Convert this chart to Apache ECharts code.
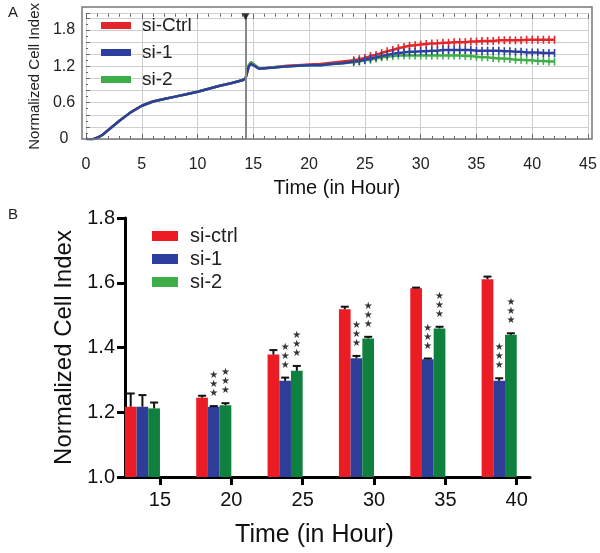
<!DOCTYPE html>
<html>
<head>
<meta charset="utf-8">
<script src="https://cdn.jsdelivr.net/npm/echarts@6/dist/echarts.min.js"></script>
<style>
html,body{margin:0;padding:0;background:#fff;}
#c{width:600px;height:553px;}
</style>
</head>
<body>
<div id="c"></div>
<script>
// ---------- Panel A data (time course) ----------
const timeA = [0,0.5,1,1.5,2,3,4,5,6,7,8,9,10,11,12,13,14,14.3,14.6,14.8,15.5,16,17,18,19,20,21,22,23,24,24.5,25,25.5,26,26.5,27,27.5,28,28.5,29,29.5,30,30.5,31,31.5,32,32.5,33,33.5,34,34.5,35,35.5,36,36.5,37,37.5,38,38.5,39,39.5,40,40.5,41,41.5,42];
const ctrlA = [0,-0.01,0.02,0.07,0.15,0.30,0.44,0.55,0.62,0.66,0.70,0.74,0.78,0.83,0.88,0.92,0.97,1.00,1.22,1.27,1.17,1.17,1.19,1.21,1.22,1.23,1.24,1.26,1.28,1.30,1.32,1.34,1.37,1.39,1.42,1.45,1.47,1.50,1.52,1.54,1.55,1.56,1.57,1.58,1.58,1.59,1.59,1.60,1.60,1.60,1.61,1.61,1.62,1.62,1.62,1.63,1.63,1.63,1.63,1.63,1.64,1.64,1.64,1.64,1.64,1.64];
const si1A = [0,-0.01,0.02,0.07,0.15,0.30,0.44,0.55,0.62,0.66,0.70,0.74,0.78,0.83,0.88,0.92,0.97,1.00,1.20,1.24,1.16,1.17,1.18,1.20,1.21,1.22,1.22,1.24,1.25,1.28,1.29,1.31,1.33,1.35,1.37,1.39,1.41,1.42,1.43,1.44,1.44,1.45,1.45,1.46,1.46,1.47,1.47,1.47,1.47,1.47,1.47,1.46,1.46,1.46,1.46,1.46,1.45,1.45,1.44,1.44,1.43,1.43,1.43,1.42,1.42,1.42];
const si2A = [0,-0.01,0.02,0.07,0.15,0.30,0.44,0.55,0.62,0.66,0.70,0.74,0.78,0.83,0.88,0.92,0.97,1.00,1.22,1.27,1.17,1.17,1.19,1.20,1.21,1.22,1.22,1.24,1.25,1.27,1.28,1.30,1.31,1.33,1.35,1.36,1.37,1.38,1.38,1.38,1.38,1.38,1.38,1.38,1.38,1.38,1.38,1.38,1.38,1.37,1.37,1.36,1.35,1.35,1.34,1.33,1.33,1.32,1.31,1.31,1.30,1.30,1.29,1.29,1.28,1.28];
const treatTime = 14.3;
const errMarkFrom = 24;
const namesA = ['si-Ctrl','si-1','si-2'];

// ---------- Panel B data (bar chart) ----------
const timesB = [15,20,25,30,35,40];
const ctrlB = [1.217,1.245,1.378,1.518,1.583,1.611];
const ctrlErrB = [0.041,0.006,0.014,0.008,0.002,0.008];
const si1B = [1.217,1.217,1.297,1.367,1.364,1.297];
const si1ErrB = [0.036,0.002,0.010,0.007,0.002,0.008];
const si2B = [1.212,1.222,1.328,1.428,1.459,1.439];
const si2ErrB = [0.018,0.006,0.015,0.005,0.005,0.005];
const si1Sig = ['','***','***','***','***','***'];
const si2Sig = ['','***','***','***','***','***'];
const namesB = ['si-ctrl','si-1','si-2'];
const yTicksB = [1.0,1.2,1.4,1.6,1.8];

const FONT = 'Liberation Sans, Arial, sans-serif';
const colA = {red:'#e3262b', blue:'#2c3f9e', green:'#3fae48'};
const colB = {red:'#ec1c24', blue:'#2e3d97', green:'#10803f'};

const chart = echarts.init(document.getElementById('c'), null, {renderer:'canvas'});

function pairs(t, v){ return t.map((x,i)=>[x, v[i]]); }

function lineSeries(name, vals, color){
  return {
    type:'line', name, xAxisIndex:0, yAxisIndex:0,
    data: pairs(timeA, vals),
    lineStyle:{color, width:2.5},
    itemStyle:{color},
    symbol: (val) => val[0] >= errMarkFrom ? 'rect' : 'none',
    symbolSize:[1.6, 8],
    showSymbol:true,
    emphasis:{disabled:true},
    z:3
  };
}

const BAR_W = 11.7; // px
function barSeries(name, vals, errs, sigs, color, k){
  return {
    type:'custom', name, xAxisIndex:2, yAxisIndex:1,
    data: timesB.map((t,i)=>[t, vals[i], errs[i], sigs[i]]),
    itemStyle:{color},
    encode:{x:0, y:1},
    renderItem: function(params, api){
      const t = api.value(0), v = api.value(1), e = api.value(2);
      const sig = sigs[params.dataIndex];
      const base = api.coord([t, yTicksB[0]]);
      const topP = api.coord([t, v]);
      const errP = api.coord([t, v + e]);
      const x0 = base[0] - (3 - k) * BAR_W;
      const cx = x0 + BAR_W/2;
      const children = [
        {type:'rect', shape:{x:x0, y:topP[1], width:BAR_W, height:base[1]-topP[1]}, style:{fill:color}},
        {type:'line', shape:{x1:cx, y1:topP[1], x2:cx, y2:errP[1]}, style:{stroke:'#111', lineWidth:2}},
        {type:'line', shape:{x1:cx-4, y1:errP[1], x2:cx+4, y2:errP[1]}, style:{stroke:'#111', lineWidth:2}}
      ];
      if (sig) {
        children.push({type:'text', style:{text: sig.split('').map(()=>'★').join('\n'), x:cx, y:errP[1]-8,
          align:'center', verticalAlign:'bottom', fontSize:10, lineHeight:9, fill:'#333', fontFamily:'DejaVu Sans'}});
      }
      return {type:'group', children};
    },
    z:3
  };
}

const gridLine = {show:true, lineStyle:{color:'#cfcfcf', width:1, type:'solid'}};

const option = {
  animation:false,
  backgroundColor:'#fff',
  textStyle:{fontFamily:FONT},
  graphic:[
    {type:'text', left:8, top:5, style:{text:'A', fontSize:15, fill:'#222', fontFamily:FONT}},
    {type:'text', left:8, top:207, style:{text:'B', fontSize:15, fill:'#222', fontFamily:FONT}},
    {type:'rect', shape:{x:82, y:7, width:510, height:132}, style:{fill:'none', stroke:'#777', lineWidth:1.5}, z:10}
  ],
  legend:[
    {
      data:namesA, orient:'vertical', left:96, top:11, itemWidth:30, itemHeight:7, itemGap:8, icon:'rect',
      textStyle:{fontSize:19, color:'#222', fontFamily:FONT, padding:[0,0,0,6]},
      selectedMode:false
    },
    {
      data:namesB, orient:'vertical', left:147, top:221, itemWidth:26, itemHeight:10, itemGap:3, icon:'rect',
      textStyle:{fontSize:20, color:'#222', fontFamily:FONT, padding:[0,0,0,7]},
      selectedMode:false
    }
  ],
  grid:[
    {left:86, top:7, width:502, height:132},
    {left:125, top:218, width:405, height:259}
  ],
  xAxis:[
    {
      type:'value', gridIndex:0, min:0, max:45, interval:5, position:'bottom',
      axisLine:{show:false},
      axisTick:{show:true, inside:true, length:5, lineStyle:{color:'#666'}},
      minorTick:{show:true, splitNumber:5, length:3, lineStyle:{color:'#666'}},
      axisLabel:{fontSize:16, color:'#222', margin:18, fontFamily:FONT},
      splitLine:gridLine,
      name:'Time (in Hour)', nameLocation:'middle', nameGap:39,
      nameTextStyle:{fontSize:20, color:'#111', fontFamily:FONT}
    },
    {
      type:'value', gridIndex:0, min:0, max:45, interval:5, position:'top',
      axisLine:{show:false},
      axisTick:{show:true, inside:true, length:5, lineStyle:{color:'#666'}},
      minorTick:{show:true, splitNumber:5, length:3, lineStyle:{color:'#666'}},
      axisLabel:{show:false}, splitLine:{show:false}
    },
    {
      type:'value', gridIndex:1, min:12.55, max:40.93,
      axisLine:{show:true, lineStyle:{color:'#000', width:3}},
      axisTick:{show:true, inside:false, length:8, lineStyle:{color:'#000', width:3}, customValues:timesB},
      axisLabel:{fontSize:20, color:'#111', margin:13, fontFamily:FONT, customValues:timesB},
      splitLine:{show:false},
      name:'Time (in Hour)', nameLocation:'middle', nameGap:46,
      nameTextStyle:{fontSize:25, color:'#111', fontFamily:FONT, padding:[0,26,0,0]}
    }
  ],
  yAxis:[
    {
      type:'value', gridIndex:0, min:0, max:2.07, interval:0.2, offset:4,
      axisLine:{show:false},
      axisTick:{show:true, inside:true, length:4, lineStyle:{color:'#666'}},
      minorTick:{show:true, splitNumber:2, length:2, lineStyle:{color:'#666'}},
      axisLabel:{fontSize:16, color:'#222', margin:18, align:'center', fontFamily:FONT,
        showMaxLabel:false,
        formatter:(v)=>{ const r=v/0.6; if (Math.abs(r-Math.round(r))<1e-6) return v===0?'0':v.toFixed(1); return ''; }},
      splitLine:gridLine,
      name:'Normalized Cell Index', nameLocation:'middle', nameGap:40, nameRotate:90,
      nameTextStyle:{fontSize:15, color:'#222', fontFamily:FONT}
    },
    {
      type:'value', gridIndex:1, min:1.0, max:1.8, interval:0.2,
      axisLine:{show:true, lineStyle:{color:'#000', width:3}},
      axisTick:{show:true, inside:false, length:8, lineStyle:{color:'#000', width:3}},
      axisLabel:{fontSize:20, color:'#111', margin:10, fontFamily:FONT, formatter:(v)=>v.toFixed(1)},
      splitLine:{show:false},
      name:'Normalized Cell Index', nameLocation:'middle', nameGap:33, nameRotate:90,
      nameTextStyle:{fontSize:24, color:'#111', fontFamily:FONT}
    }
  ],
  series:[
    lineSeries('si-Ctrl', ctrlA, colA.red),
    lineSeries('si-2', si2A, colA.green),
    lineSeries('si-1', si1A, colA.blue),
    {
      type:'line', name:'treat', xAxisIndex:0, yAxisIndex:0, data:[], silent:true,
      markLine:{
        silent:true, symbol:['none','none'], animation:false,
        lineStyle:{color:'#888', width:2, type:'solid'},
        label:{show:false},
        data:[[{coord:[treatTime, 0]},{coord:[treatTime, 2.07]}]]
      }
    },
    {
      type:'scatter', name:'treatMark', xAxisIndex:0, yAxisIndex:0,
      data:[[treatTime, 2.02]], symbol:'triangle', symbolRotate:180, symbolSize:[8,7],
      itemStyle:{color:'#111'}, silent:true, z:11
    },
    barSeries('si-ctrl', ctrlB, ctrlErrB, ['','','','','',''], colB.red, 0),
    barSeries('si-1', si1B, si1ErrB, si1Sig, colB.blue, 1),
    barSeries('si-2', si2B, si2ErrB, si2Sig, colB.green, 2)
  ]
};
chart.setOption(option);
</script>
</body>
</html>
